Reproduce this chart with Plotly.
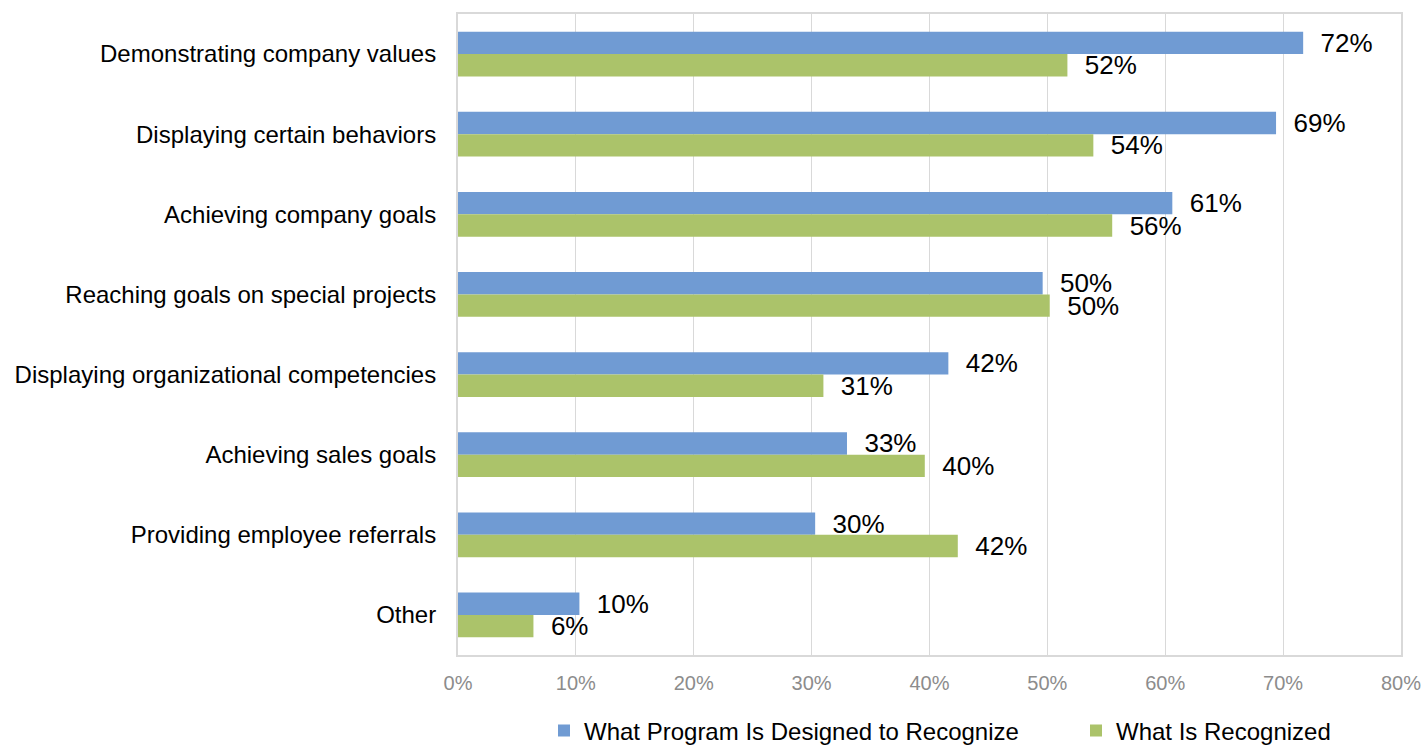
import plotly.graph_objects as go

# Recognition program survey: what the program targets vs. what actually gets recognized
categories = [
    "Demonstrating company values",
    "Displaying certain behaviors",
    "Achieving company goals",
    "Reaching goals on special projects",
    "Displaying organizational competencies",
    "Achieving sales goals",
    "Providing employee referrals",
    "Other",
]
designed_to_recognize = [0.717, 0.694, 0.606, 0.496, 0.416, 0.330, 0.303, 0.103]
is_recognized = [0.517, 0.539, 0.555, 0.502, 0.310, 0.396, 0.424, 0.064]

series_names = ["What Program Is Designed to Recognize", "What Is Recognized"]
x_ticks = [0, 0.1, 0.2, 0.3, 0.4, 0.5, 0.6, 0.7, 0.8]

FONT = "Arial, Liberation Sans, sans-serif"
BLUE = "#709BD3"
GREEN = "#ABC36A"
GRID = "#D9D9D9"
W, H = 1425, 746

fig = go.Figure()
for name, vals, color, leg in [
    (series_names[0], designed_to_recognize, BLUE, "legend"),
    (series_names[1], is_recognized, GREEN, "legend2"),
]:
    fig.add_trace(go.Bar(
        name=name,
        y=categories,
        x=vals,
        orientation="h",
        marker=dict(color=color, line=dict(width=0)),
        texttemplate="\u00a0\u00a0%{x:.0%}",
        textposition="outside",
        textfont=dict(family=FONT, size=26, color="#000000"),
        constraintext="none",
        cliponaxis=False,
        legend=leg,
    ))

# one legend box per series so each entry sits at its own horizontal spot
legend_common = dict(
    orientation="h",
    xref="container",
    yref="container",
    xanchor="left",
    y=15 / H,
    yanchor="middle",
    font=dict(family=FONT, size=24, color="#000000"),
)

fig.update_layout(
    width=W,
    height=H,
    margin=dict(l=458, r=24, t=14, b=91, autoexpand=False),
    paper_bgcolor="white",
    plot_bgcolor="white",
    barmode="group",
    bargap=0.44,
    bargroupgap=0,
    font=dict(family=FONT, color="#000000"),
    showlegend=True,
    legend=dict(x=544 / W, **legend_common),
    legend2=dict(x=1076 / W, **legend_common),
)

fig.update_xaxes(
    range=[0, 0.8],
    tickvals=x_ticks,
    tickformat=".0%",
    tickfont=dict(family=FONT, size=20, color="#8C8C8C"),
    ticks="",
    ticklabelstandoff=9,
    showgrid=True,
    gridcolor=GRID,
    gridwidth=1,
    zeroline=False,
    showline=True,
    linecolor=GRID,
    linewidth=2,
    mirror=True,
    automargin=False,
)

fig.update_yaxes(
    categoryorder="array",
    categoryarray=categories,
    autorange="reversed",
    tickfont=dict(family=FONT, size=24, color="#000000"),
    ticks="",
    ticklabelstandoff=15,
    showgrid=False,
    zeroline=False,
    showline=True,
    linecolor=GRID,
    linewidth=2,
    mirror=True,
    automargin=False,
)

fig.write_html("out.html")
